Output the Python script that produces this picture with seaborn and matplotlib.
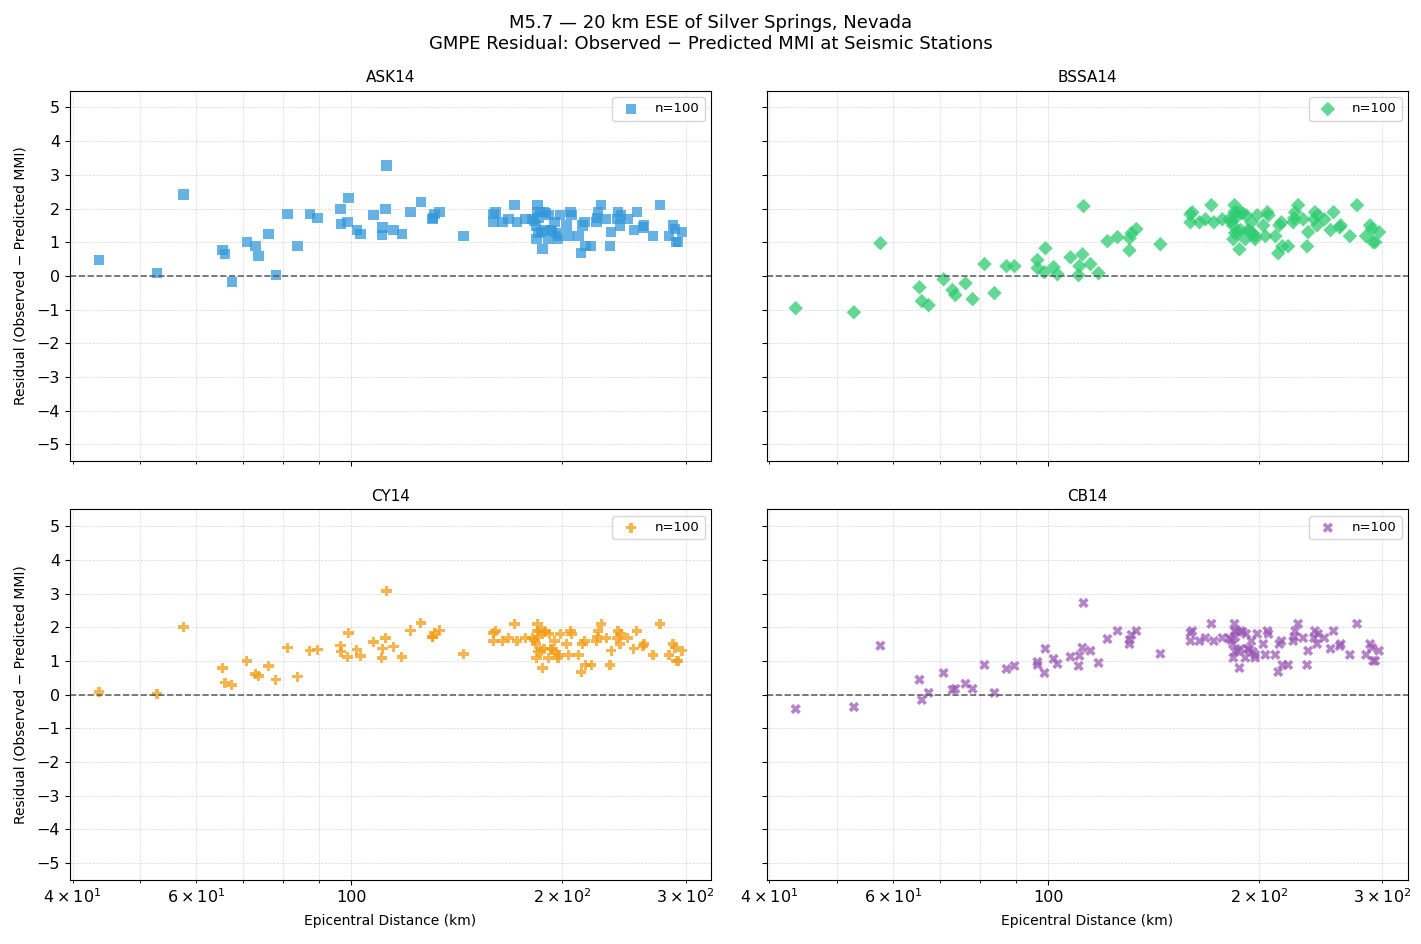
import matplotlib
matplotlib.use("Agg")
import matplotlib.pyplot as plt
import seaborn as sns
from matplotlib.ticker import ScalarFormatter

# 台站震中距 (km)：近场 35 个 + 远场 65 个
dist_near = [43.6, 52.8, 57.6, 65.5, 66.0, 67.5, 70.9, 73.0, 73.7, 76.2, 78.0, 81.1,
             83.8, 87.2, 89.5, 96.5, 96.6, 99.1, 98.8, 101.8, 103.1, 107.6, 110.5,
             110.8, 111.9, 112.3, 114.9, 118.0, 121.5, 125.6, 130.6, 130.7, 131.5,
             133.6, 144.6]
dist_far = [159.6, 159.6, 160.6, 164.4, 167.7, 171.0, 172.4, 177.3, 181.4, 182.5,
            183.5, 183.8, 184.5, 184.5, 184.8, 185.0, 185.9, 186.5, 187.5, 188.3,
            188.3, 189.5, 191.2, 191.7, 192.9, 193.5, 195.0, 195.9, 197.4, 197.4,
            198.8, 202.8, 204.2, 205.6, 206.3, 211.0, 213.0, 213.8, 215.3, 215.9,
            220.1, 223.8, 224.5, 225.2, 227.4, 231.2, 234.2, 235.0, 239.6, 240.4,
            242.0, 242.8, 247.9, 253.0, 255.5, 260.7, 261.6, 269.6, 276.0, 284.3,
            288.1, 290.0, 291.0, 293.0, 296.7]

# 远场残差 (四个模型相同)
resid_far = [1.83, 1.59, 1.89, 1.59, 1.68, 2.10, 1.59, 1.68, 1.68, 1.62,
             1.50, 1.09, 2.10, 1.89, 1.27, 1.71, 1.89, 1.30, 0.79, 1.89,
             1.36, 1.86, 1.09, 1.80, 1.36, 1.33, 1.59, 1.27, 1.18, 1.09,
             1.80, 1.50, 1.18, 1.89, 1.80, 1.18, 0.67, 1.50, 1.59, 0.88,
             0.88, 1.59, 1.71, 1.89, 2.10, 1.68, 0.88, 1.30, 1.68, 1.89,
             1.50, 1.80, 1.68, 1.36, 1.89, 1.44, 1.50, 1.18, 2.10, 1.18,
             1.50, 1.39, 1.00, 1.00, 1.30]

# 近场残差 (各模型)
ask14_near = [0.47, 0.08, 2.42, 0.76, 0.64, -0.19, 1.00, 0.88, 0.58, 1.24, 0.02, 1.83,
              0.88, 1.83, 1.71, 1.98, 1.53, 2.31, 1.59, 1.36, 1.24, 1.80, 1.21, 1.44,
              1.98, 3.28, 1.36, 1.24, 1.89, 2.19, 1.68, 1.71, 1.83, 1.89, 1.18]
bssa14_near = [-0.96, -1.08, 0.97, -0.34, -0.75, -0.87, -0.10, -0.42, -0.57, -0.22,
               -0.69, 0.35, -0.51, 0.29, 0.29, 0.47, 0.23, 0.82, 0.11, 0.26, 0.05,
               0.55, 0.02, 0.29, 0.64, 2.07, 0.35, 0.08, 1.03, 1.15, 0.76, 1.12,
               1.27, 1.39, 0.94]
cy14_near = [0.08, 0.02, 2.01, 0.79, 0.35, 0.29, 1.00, 0.61, 0.55, 0.85, 0.44, 1.39,
             0.53, 1.30, 1.33, 1.45, 1.27, 1.83, 1.12, 1.33, 1.15, 1.56, 1.09, 1.36,
             1.68, 3.08, 1.42, 1.12, 1.90, 2.13, 1.71, 1.71, 1.83, 1.90, 1.21]
cb14_near = [-0.43, -0.37, 1.45, 0.44, -0.16, 0.05, 0.64, 0.14, 0.17, 0.32, 0.17, 0.88,
             0.05, 0.76, 0.85, 0.97, 0.88, 1.36, 0.64, 1.06, 0.91, 1.12, 0.85, 1.15,
             1.39, 2.72, 1.30, 0.94, 1.65, 1.89, 1.50, 1.62, 1.77, 1.89, 1.21]

models = ["ASK14", "BSSA14", "CY14", "CB14"]
near_resids = [ask14_near, bssa14_near, cy14_near, cb14_near]
colors = ["#3498db", "#2ecc71", "#f39c12", "#9b59b6"]
markers = ["s", "D", "P", "X"]

distances = dist_near + dist_far

fig, axes = plt.subplots(2, 2, figsize=(14.21, 9.44), dpi=100, sharex=True, sharey=True)
fig.subplots_adjust(left=0.049, right=0.991, top=0.904, bottom=0.068,
                    wspace=0.086, hspace=0.13)

for ax, name, near, color, marker in zip(axes.flat, models, near_resids, colors, markers):
    resid = near + resid_far
    sns.scatterplot(x=distances, y=resid, ax=ax, color=color, marker=marker,
                    s=55, alpha=0.75, edgecolor="none", label=f"n={len(resid)}")
    ax.axhline(0, color="#555555", linestyle="--", linewidth=1.2, alpha=0.9)
    ax.set_xscale("log")
    ax.xaxis.set_major_formatter(ScalarFormatter())
    ax.set_ylim(-5.5, 5.5)
    ax.set_yticks(range(-5, 6))
    ax.tick_params(axis="both", which="both", labelsize=11.5)
    ax.grid(True, which="both", linestyle="--", linewidth=0.5, alpha=0.5)
    ax.set_title(name, fontsize=11)
    ax.legend(loc="upper right", fontsize=9.5)

for ax in axes[1, :]:
    ax.set_xlabel("Epicentral Distance (km)", fontsize=10, labelpad=6)
for ax in axes[:, 0]:
    ax.set_ylabel("Residual (Observed \u2212 Predicted MMI)", fontsize=10, labelpad=6)

fig.suptitle("M5.7 \u2014 20 km ESE of Silver Springs, Nevada\n"
             "GMPE Residual: Observed \u2212 Predicted MMI at Seismic Stations",
             fontsize=13, y=0.985)

plt.savefig("out.png", dpi=100)
plt.close()
